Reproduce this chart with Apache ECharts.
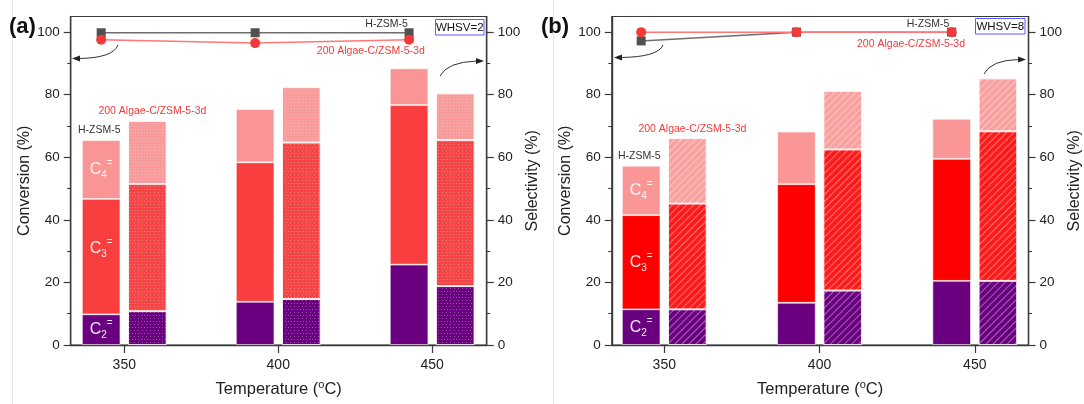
<!DOCTYPE html>
<html><head><meta charset="utf-8">
<script src="https://cdn.jsdelivr.net/npm/echarts@6/dist/echarts.min.js"></script>
<style>html,body{margin:0;padding:0;background:#fff}#c{width:1084px;height:404px}</style>
</head><body><div id="c"></div>
<script>
// ---------------- data ----------------
const TEMPS = [350, 400, 450];
const X_TICKS = [350, 400, 450];
const X_TICK_LABELS = ['350', '400', '450'];
const Y_TICKS = [0, 20, 40, 60, 80, 100];
const Y_MINOR = [10, 30, 50, 70, 90];

// (a) WHSV=2 : selectivity (%) segments, stacked C2= / C3= / C4=
const a_H_C2 = [9.8, 13.8, 25.7];
const a_H_C3 = [36.9, 44.6, 51.0];
const a_H_C4 = [18.8, 17.0, 11.7];
const a_Al_C2 = [10.8, 14.7, 18.8];
const a_Al_C3 = [40.7, 50.0, 46.7];
const a_Al_C4 = [20.1, 17.7, 14.9];
// (a) conversion (%)
const a_H_conv = [99.8, 99.8, 99.8];
const a_Al_conv = [97.6, 96.5, 97.6];

// (b) WHSV=8
const b_H_C2 = [11.4, 13.5, 20.5];
const b_H_C3 = [30.1, 37.9, 39.0];
const b_H_C4 = [15.8, 16.8, 12.8];
const b_Al_C2 = [11.4, 17.4, 20.5];
const b_Al_C3 = [33.8, 45.1, 47.8];
const b_Al_C4 = [20.9, 18.7, 16.9];
const b_H_conv = [97.2, 100.0, 100.0];
const b_Al_conv = [100.0, 100.0, 100.0];

const NAME_H = 'H-ZSM-5';
const NAME_AL = '200 Algae-C/ZSM-5-3d';

// ---------------- styles ----------------
const FONT = '"Liberation Sans", Arial, Helvetica, sans-serif';
const AXC = '#3a3a3a';
const TXT = '#222';
const BAR_W = 38.5;
const BAR_GAP_PCT = 20;
const PURPLE = '#6a0080';

const panels = [
  {
    tag: '(a)', whsv: 'WHSV=2',
    left: 70.7, width: 416, xMin: 332.6, xMax: 467.7,
    H: [a_H_C2, a_H_C3, a_H_C4], Al: [a_Al_C2, a_Al_C3, a_Al_C4],
    convH: a_H_conv, convAl: a_Al_conv,
    colH: [PURPLE, '#f83e3e', '#fa9595'], colAl: [PURPLE, '#f84444', '#fa9a9a'],
    decal: { symbol: 'rect', symbolSize: 1, dashArrayX: [[1, 2], [0, 1.5, 1, 0.5]], dashArrayY: [1, 1.5], color: 'rgba(255,255,255,0.32)' },
    tagPos: [9, 16], box: [435.5, 19.5, 48.5, 15.5],
    topH: [386.6, 24], topAl: [370.8, 51],
    arrows: [
      { p: [118, 45, 113, 58, 79, 58.5], head: 'left' },
      { p: [440, 76, 447, 62, 477, 61], head: 'right' }
    ]
  },
  {
    tag: '(b)', whsv: 'WHSV=8',
    left: 611.8, width: 416.7, xMin: 333.1, xMax: 467.3,
    H: [b_H_C2, b_H_C3, b_H_C4], Al: [b_Al_C2, b_Al_C3, b_Al_C4],
    convH: b_H_conv, convAl: b_Al_conv,
    colH: [PURPLE, '#ff0000', '#fa9696'], colAl: [PURPLE, '#ff1a1a', '#f9a0a0'],
    decal: { symbol: 'rect', symbolSize: 1, dashArrayX: [1, 0], dashArrayY: [1, 4], rotation: -Math.PI / 4, color: 'rgba(255,255,255,0.4)' },
    tagPos: [541, 16], box: [975.5, 18.5, 49.5, 15.5],
    topH: [928, 24.5], topAl: [911, 44],
    arrows: [
      { p: [663, 45, 658, 57, 621, 57.5], head: 'left' },
      { p: [984, 74, 991, 60, 1019, 59.5], head: 'right' }
    ]
  }
];

const GRID_TOP = 16.5, GRID_H = 335.5, YMAX = 105;

const chart = echarts.init(document.getElementById('c'), null, { renderer: 'canvas' });

const option = {
  animation: false,
  backgroundColor: '#fff',
  textStyle: { fontFamily: FONT },
  grid: [], xAxis: [], yAxis: [], series: []
};

const cLabelRich = {
  c: { fontSize: 16, color: 'rgba(255,255,255,0.92)', lineHeight: 22, fontFamily: FONT },
  s: { fontSize: 10, color: 'rgba(255,255,255,0.92)', lineHeight: 12, verticalAlign: 'bottom', fontFamily: FONT },
  u: { fontSize: 10, color: 'rgba(255,255,255,0.92)', lineHeight: 12, verticalAlign: 'top', fontFamily: FONT }
};
const cNames = ['2', '3', '4'];

panels.forEach((P, i) => {
  option.grid.push({ left: P.left, top: GRID_TOP, width: P.width, height: GRID_H, show: true,
    borderColor: AXC, borderWidth: 1.2, backgroundColor: 'transparent' });
  const pxPerUnit = P.width / (P.xMax - P.xMin);
  const shift = (BAR_W * (1 + BAR_GAP_PCT / 100)) / 2 / pxPerUnit;
  option.xAxis.push({
    type: 'value', gridIndex: i, min: P.xMin, max: P.xMax, position: 'bottom',
    axisLine: { show: true, onZero: false, lineStyle: { color: AXC, width: 1.4 } },
    axisTick: { show: true, customValues: X_TICKS, length: 8, lineStyle: { color: AXC, width: 1.2 } },
    axisLabel: { show: true, customValues: X_TICKS, formatter: v => X_TICK_LABELS[X_TICKS.indexOf(v)] || '',
      fontSize: 14, color: TXT, margin: 13, fontFamily: FONT },
    splitLine: { show: false },
    name: 'Temperature ({sup|o}C)', nameLocation: 'middle', nameGap: 34,
    nameTextStyle: { fontSize: 16.5, color: TXT, fontFamily: FONT, lineHeight: 20,
      rich: { sup: { fontSize: 11, lineHeight: 11, verticalAlign: 'top', color: TXT, fontFamily: FONT } } }
  });
  option.xAxis.push({ type: 'value', gridIndex: i, min: P.xMin + shift, max: P.xMax + shift, show: false });

  const yBase = (pos, name) => ({
    type: 'value', gridIndex: i, position: pos, min: 0, max: YMAX,
    name: name, nameLocation: 'middle', nameGap: 38, nameRotate: 90,
    nameTextStyle: { fontSize: 16, color: TXT, fontFamily: FONT },
    axisLine: { show: true, onZero: false, lineStyle: { color: AXC, width: 1.4 } },
    axisTick: { show: true, customValues: Y_TICKS, length: 7, lineStyle: { color: AXC, width: 1.2 } },
    axisLabel: { show: true, customValues: Y_TICKS, fontSize: 13.5, color: TXT, margin: 11, fontFamily: FONT },
    splitLine: { show: false }
  });
  const yMinor = (pos) => ({
    type: 'value', gridIndex: i, position: pos, min: 0, max: YMAX,
    axisLine: { show: false },
    axisTick: { show: true, customValues: Y_MINOR, length: 3.5, lineStyle: { color: AXC, width: 1.1 } },
    axisLabel: { show: false, customValues: Y_MINOR },
    splitLine: { show: false }
  });
  option.yAxis.push(yBase('left', 'Conversion (%)'));
  option.yAxis.push(yBase('right', 'Selectivity (%)'));
  option.yAxis.push(yMinor('left'));
  option.yAxis.push(yMinor('right'));

  // bars: data rows are [selectivity, temperature] so the stacked dimension is the value one
  const barEncode = { x: 1, y: 0 };
  P.H.forEach((arr, k) => {
    option.series.push({
      type: 'bar', name: NAME_H + ' C' + cNames[k], stack: 'H' + i, xAxisIndex: 2 * i, yAxisIndex: 4 * i + 1,
      barWidth: BAR_W, barGap: BAR_GAP_PCT + '%', encode: barEncode,
      itemStyle: { color: P.colH[k], borderColor: 'rgba(255,255,255,0.75)', borderWidth: 0.8 },
      data: TEMPS.map((t, j) => j === 0 ? {
        value: [arr[j], t],
        label: { show: true, position: 'inside', offset: [0, k === 1 && i === 0 ? -8 : 0], formatter: '{c|C}{s|' + cNames[k] + '}{u|=}', rich: cLabelRich }
      } : [arr[j], t])
    });
  });
  P.Al.forEach((arr, k) => {
    option.series.push({
      type: 'bar', name: NAME_AL + ' C' + cNames[k], stack: 'Al' + i, xAxisIndex: 2 * i, yAxisIndex: 4 * i + 1,
      barWidth: BAR_W, barGap: BAR_GAP_PCT + '%', encode: barEncode,
      itemStyle: { color: P.colAl[k], borderColor: 'rgba(255,255,255,0.75)', borderWidth: 0.8, decal: P.decal },
      data: TEMPS.map((t, j) => [arr[j], t])
    });
  });
  // conversion lines (drawn at the H-ZSM-5 bar centres)
  option.series.push({
    type: 'line', name: NAME_H + ' conversion', xAxisIndex: 2 * i + 1, yAxisIndex: 4 * i,
    data: TEMPS.map((t, j) => [t, P.convH[j]]),
    symbol: 'rect', symbolSize: 9, showSymbol: true,
    itemStyle: { color: '#505050' }, lineStyle: { color: '#6e6e6e', width: 1.5 }, z: 5
  });
  option.series.push({
    type: 'line', name: NAME_AL + ' conversion', xAxisIndex: 2 * i + 1, yAxisIndex: 4 * i,
    data: TEMPS.map((t, j) => [t, P.convAl[j]]),
    symbol: 'circle', symbolSize: 10, showSymbol: true,
    itemStyle: { color: '#f23a3a' }, lineStyle: { color: '#f77', width: 1.5 }, z: 6
  });
});

chart.setOption(option);

// ---------------- annotations ----------------
function txt(id, x, y, text, size, color, align, valign, weight) {
  return { type: 'text', id: id, x: x, y: y, z: 50,
    style: { text: text, fontSize: size, fontFamily: FONT, fontWeight: weight || 'normal', fill: color,
      align: align, textAlign: align, verticalAlign: valign, textVerticalAlign: valign } };
}
const graphics = [];
graphics.push({ type: 'line', id: 'div0', shape: { x1: 12.5, y1: 0, x2: 12.5, y2: 404 }, style: { stroke: '#e4e4e4', lineWidth: 1 }, z: 0 });
graphics.push({ type: 'line', id: 'div1', shape: { x1: 553.5, y1: 0, x2: 553.5, y2: 404 }, style: { stroke: '#e4e4e4', lineWidth: 1 }, z: 0 });

panels.forEach((P, i) => {
  graphics.push(txt('tag' + i, P.tagPos[0], P.tagPos[1], P.tag, 22, '#111', 'left', 'top', 'bold'));
  graphics.push({ type: 'rect', id: 'box' + i, z: 50, shape: { x: P.box[0], y: P.box[1], width: P.box[2], height: P.box[3] },
    style: { fill: '#fff', stroke: '#5b5bff', lineWidth: 1 } });
  graphics.push(txt('whsv' + i, P.box[0] + P.box[2] / 2, P.box[1] + P.box[3] / 2 + 0.5, P.whsv, 11.5, '#111', 'center', 'middle'));
  graphics.push(txt('topH' + i, P.topH[0], P.topH[1], NAME_H, 10.5, '#333', 'center', 'middle'));
  graphics.push(txt('topAl' + i, P.topAl[0], P.topAl[1], NAME_AL, 10.5, '#f23a3a', 'center', 'middle'));
  const topHv = P.H.reduce((s, a) => s + a[0], 0);
  const topAlv = P.Al.reduce((s, a) => s + a[0], 0);
  const xH = chart.convertToPixel({ xAxisIndex: 2 * i + 1 }, TEMPS[0]);
  const xAl = 2 * chart.convertToPixel({ xAxisIndex: 2 * i }, TEMPS[0]) - xH;
  const yH = chart.convertToPixel({ yAxisIndex: 4 * i + 1 }, topHv);
  const yAl = chart.convertToPixel({ yAxisIndex: 4 * i + 1 }, topAlv);
  graphics.push(txt('barH' + i, xH - 2, yH - 4, NAME_H, 10.5, '#333', 'center', 'bottom'));
  graphics.push(txt('barAl' + i, xAl + 5, yAl - 4, NAME_AL, 10.5, '#f23a3a', 'center', 'bottom'));
  P.arrows.forEach((a, k) => {
    const [x1, y1, cx, cy, x2, y2] = a.p;
    graphics.push({ type: 'bezierCurve', id: 'arr' + i + k, z: 50,
      shape: { x1: x1, y1: y1, cpx1: cx, cpy1: cy, x2: x2, y2: y2 },
      style: { stroke: '#333', lineWidth: 1, fill: null } });
    const d = a.head === 'left' ? -1 : 1;
    graphics.push({ type: 'polygon', id: 'head' + i + k, z: 50,
      shape: { points: [[x2 + d * 7, y2], [x2 - d * 1, y2 - 3], [x2 - d * 1, y2 + 3]] },
      style: { fill: '#222' } });
  });
});
chart.setOption({ graphic: { elements: graphics } });
</script></body></html>
